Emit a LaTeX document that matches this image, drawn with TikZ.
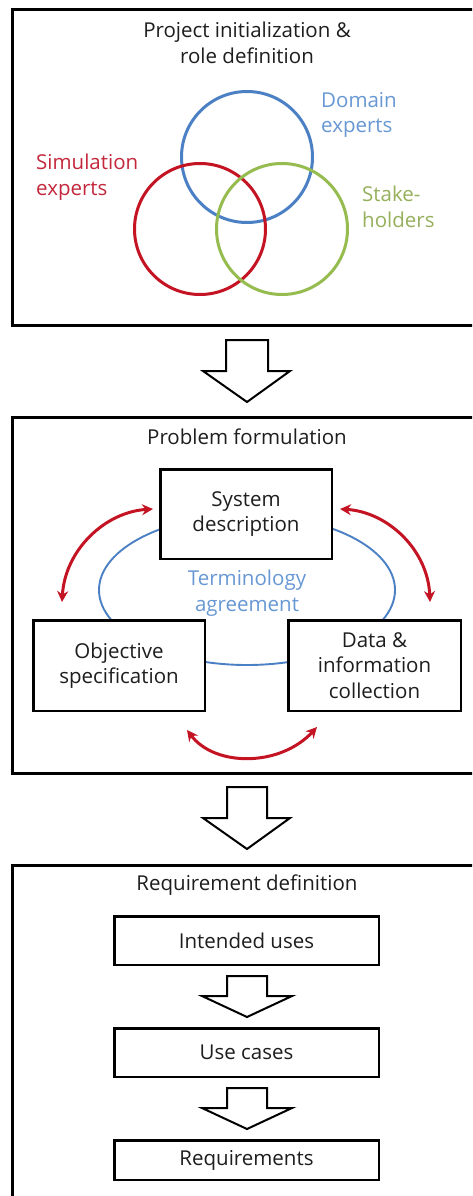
\documentclass[tikz,border=0pt]{standalone}
\usepackage{fontspec}
\setmainfont{Open Sans}
\usetikzlibrary{arrows.meta}
\definecolor{cred}{RGB}{196,20,36}
\definecolor{cblue}{RGB}{76,128,196}
\definecolor{cgreen}{RGB}{150,188,80}
\definecolor{tred}{RGB}{196,40,60}
\definecolor{tblue}{RGB}{104,152,212}
\definecolor{tgreen}{RGB}{150,176,92}
\definecolor{tblack}{RGB}{30,30,30}
\tikzset{
  panel/.style={draw=black, line width=3pt},
  txt/.style={font=\fontsize{20.5}{25.5}\selectfont, text=tblack, align=center, inner sep=0pt},
  lbl/.style={font=\fontsize{20.5}{25.5}\selectfont, align=left, anchor=west, inner sep=0pt},
  venn/.style={circle, line width=3pt, minimum size=131pt, inner sep=0pt},
  box/.style={draw=black, fill=white, line width=2.5pt, font=\fontsize{20.5}{25.5}\selectfont, text=tblack, align=center, inner sep=0pt},
  bigarrow/.style={draw=black, fill=white, line width=2pt, line join=miter},
  redarr/.style={draw=cred, line width=3pt, {Stealth[length=11pt,width=11pt]}-{Stealth[length=11pt,width=11pt]}},
}
\begin{document}
\begin{tikzpicture}[x=1pt,y=-1pt]
\clip (0,0) rectangle (472,1196);
\fill[white] (0,0) rectangle (472,1196);

% ---------- panel 1 ----------
\draw[panel] (12,10) rectangle (490,325);
\node[txt] (t1) at (247,43) {Project initialization \&\\role definition};
\node[venn, draw=cblue] (dom) at (247,157) {};
\node[venn, draw=cred] (sim) at (200,229) {};
\node[venn, draw=cgreen] (stk) at (282,229) {};
\node[lbl, text=tblue] (ldom) at (321,115) {Domain\\experts};
\node[lbl, text=tred] (lsim) at (36,177) {Simulation\\experts};
\node[lbl, text=tgreen] (lstk) at (362,207) {Stake-\\holders};

% arrow 1
\draw[bigarrow] (226,340) -- (268,340) -- (268,371) -- (290,371) -- (247,402) -- (203,371) -- (226,371) -- cycle;

% ---------- panel 2 ----------
\draw[panel] (12,417) rectangle (490,773);
\node[txt] (t2) at (247,437) {Problem formulation};
\draw[cblue, line width=1.9pt] (247,590) ellipse [x radius=148, y radius=75];
\node[txt, text=tblue] (term) at (247,593) {Terminology\\agreement};
\node[box, minimum width=171.5pt, minimum height=89.5pt] (sys) at (246,514) {System\\description};
\node[box, minimum width=171.5pt, minimum height=90.5pt] (obj) at (119,665.5) {Objective\\specification};
\node[box, minimum width=172.5pt, minimum height=90.5pt] (dat) at (374.5,665.5) {Data \&\\information\\collection};
\coordinate (a1) at (153,509);
\coordinate (a2) at (62,602);
\coordinate (b1) at (340,509);
\coordinate (b2) at (430,602);
\coordinate (c1) at (187,730);
\coordinate (c2) at (317,727);
\draw[redarr] (a1) .. controls (105,512) and (65,550) .. (a2);
\draw[redarr] (b1) .. controls (388,512) and (428,550) .. (b2);
\draw[redarr] (c1) .. controls (215,767) and (280,767) .. (c2);

% arrow 2
\draw[bigarrow] (227,787) -- (267,787) -- (267,818) -- (290,818) -- (247,849) -- (203,818) -- (227,818) -- cycle;

% ---------- panel 3 ----------
\draw[panel] (12,865) rectangle (490,1220);
\node[txt] (t3) at (247,885) {Requirement definition};
\node[box, minimum width=264.5pt, minimum height=48.5pt] (iu) at (246.5,940.5) {Intended uses};
\node[box, minimum width=264.5pt, minimum height=48.5pt] (uc) at (246.5,1052.5) {Use cases};
\node[box, minimum width=264.5pt, minimum height=39.5pt] (rq) at (246.5,1160) {Requirements};
\draw[bigarrow] (227,976) -- (267,976) -- (267,996) -- (292,996) -- (247,1017) -- (202,996) -- (227,996) -- cycle;
\draw[bigarrow] (227,1088) -- (267,1088) -- (267,1108) -- (292,1108) -- (247,1129) -- (202,1108) -- (227,1108) -- cycle;
\end{tikzpicture}
\end{document}
